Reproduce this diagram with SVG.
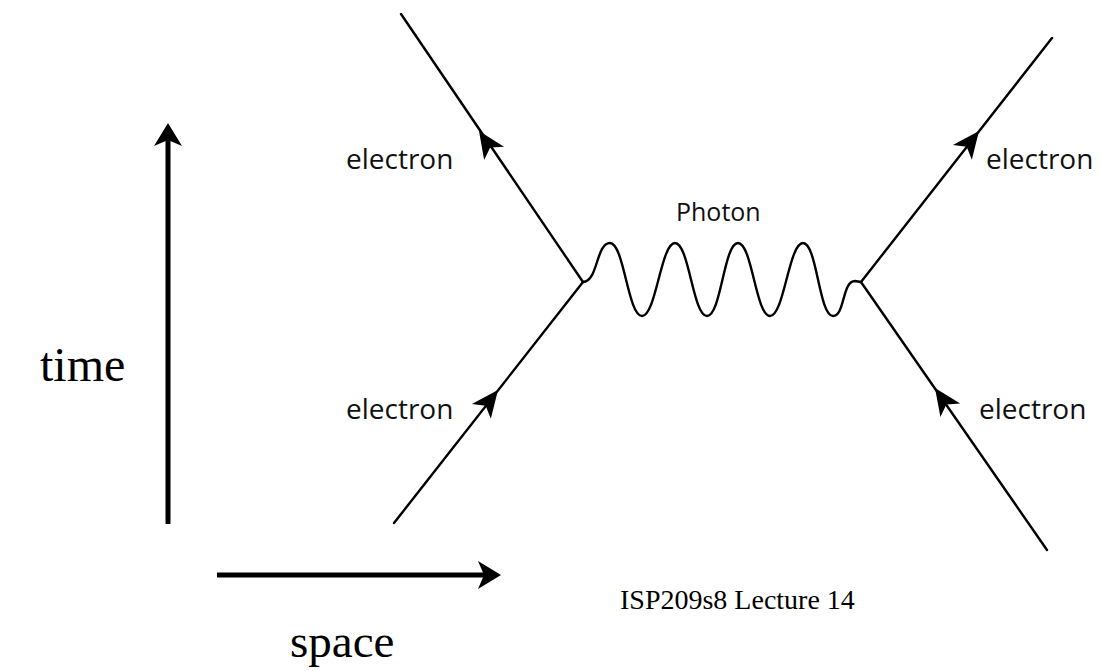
<svg xmlns="http://www.w3.org/2000/svg" width="1100" height="671" viewBox="0 0 1100 671">
<defs>
<style>
.ln{stroke:#000;stroke-width:2.4;fill:none;stroke-linecap:round}
.ax{stroke:#000;stroke-width:5;fill:none}
.lbl{font-family:"Open Sans","DejaVu Sans",sans-serif;fill:#111;font-size:28px}
.tm{font-family:"Liberation Serif","Times New Roman",serif;fill:#000}
</style>
<path id="ah" d="M0,0 L-27,-12 L-20,0 L-27,12 Z" fill="#000"/>
</defs>
<rect width="1100" height="671" fill="#fff"/>
<g id="connectors">
<path id="e-tl" class="ln" d="M583,282 L401,14"/>
<path id="e-bl" class="ln" d="M394,523 L583,282"/>
<path id="e-tr" class="ln" d="M861,282 L1052,38"/>
<path id="e-br" class="ln" d="M1047,550 L861,282"/>
<path id="photon" class="ln" d="M583,282 C598,282 596,243 610,243 C624,243 628,316 642,316 C656,316 661,243 675,243 C689,243 693,316 707,316 C721,316 724,243 738,243 C752,243 756,316 770,316 C784,316 789,243 803,243 C817,243 819,316 833,316 C845,316 842,281 855,281 L861,282"/>
<use href="#ah" transform="translate(479,131) rotate(-124)"/>
<use href="#ah" transform="translate(498,390) rotate(-52)"/>
<use href="#ah" transform="translate(979,131) rotate(-52)"/>
<use href="#ah" transform="translate(935,388) rotate(-124.5)"/>
</g>
<g id="labels">
<text class="lbl" x="346" y="169">electron</text>
<text class="lbl" x="346" y="419">electron</text>
<text class="lbl" x="986" y="169">electron</text>
<text class="lbl" x="979" y="419">electron</text>
<text class="lbl" x="676" y="221" style="font-size:25px">Photon</text>
</g>
<g id="time-axis">
<line class="ax" x1="168" y1="524" x2="168" y2="138"/>
<polygon points="168,123 182,146 168,140 154,146" fill="#000"/>
<text class="tm" x="40" y="381" font-size="48">time</text>
</g>
<g id="space-axis">
<line class="ax" x1="217" y1="575" x2="486" y2="575"/>
<polygon points="501,575 478,589 484,575 478,561" fill="#000"/>
<text class="tm" x="290" y="657" font-size="47">space</text>
</g>
<text id="footer" class="tm" x="620" y="609" font-size="28">ISP209s8 Lecture 14</text>
</svg>
